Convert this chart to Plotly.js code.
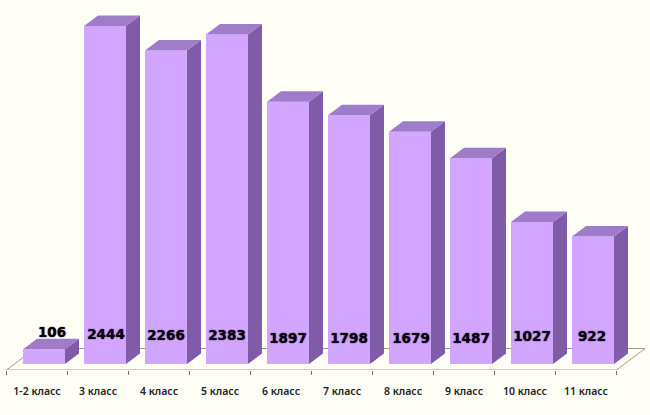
<!DOCTYPE html>
<html><head><meta charset="utf-8">
<script src="https://cdn.plot.ly/plotly-3.0.1.min.js"></script>
<style>html,body{margin:0;padding:0;background:#fffff8}</style></head>
<body><div id="chart" style="width:650px;height:415px"></div>
<script>
// ---- data ----
const classes = ["1-2 класс","3 класс","4 класс","5 класс","6 класс","7 класс","8 класс","9 класс","10 класс","11 класс"];
const pupils  = [106,2444,2266,2383,1897,1798,1679,1487,1027,922];

// ---- geometry (pixels) ----
const W=650,H=415, axisPx=370, basePx=364, pitch=61, firstCentre=37;
const pxPerUnit=0.1383, barW=42, barShift=7, dPx=14, dPy=10.5, floorDx=28.5, floorDy=21.5;
const xu=p=>p/pitch, yu=p=>p/pxPerUnit;
const xRange=[-xu(firstCentre), xu(W-firstCentre)];
const yRange=[-yu(axisPx-basePx)-0, yu(basePx)];
const FRONT='#d2a6ff',SIDE='#7f5ca8',TOP='#9f7cc9',FLOOR='#9a9a92',BG='#fffff8';

const idx=classes.map((_,i)=>i);
const left=i=>i+xu(barShift-barW/2), right=i=>i+xu(barShift+barW/2);
const dX=xu(dPx), dY=yu(dPy);

function face(xs,ys,color){return {type:'scatter',mode:'lines',x:xs,y:ys,fill:'toself',fillcolor:color,
  line:{width:0,color:color},hoverinfo:'skip',showlegend:false,cliponaxis:false};}

const traces=[{type:'bar',x:idx,y:pupils,base:0,width:xu(barW),offset:xu(barShift-barW/2),
  marker:{color:FRONT,line:{width:0}},showlegend:false,hoverinfo:'x+y'}];
idx.forEach(i=>{const v=pupils[i],l=left(i),r=right(i);
  traces.push(face([r,r+dX,r+dX,r,r],[0,dY,v+dY,v,0],SIDE));
  traces.push(face([l,r,r+dX,l+dX,l],[v,v,v+dY,v+dY,v],TOP));
});

// value labels: offsets from the bar centre in pixels
const labelDx=[8,1,0,0,0,0,1,0,0,-1], labelPx=[333.5,335.5,336.5,336.5,339.5,339.5,339.5,339.5,337.5,337.5];
traces.push({type:'scatter',mode:'text',x:idx.map(i=>i+xu(barShift+labelDx[i])),
  y:labelPx.map(p=>yu(basePx-p)),text:pupils.map(String),textposition:'middle center',
  textfont:{family:'"DejaVu Sans",Verdana,sans-serif',size:13.5,color:'#0a0010',weight:700,shadow:'0 0 1.2px #000'},
  hoverinfo:'skip',showlegend:false,cliponaxis:false});

const yAxis0=yRange[0], fx0=-0.5, fx1=idx.length-0.5, fdx=xu(floorDx), fdy=yu(floorDy);
const seg=(x0,y0,x1,y1)=>({type:'line',xref:'x',yref:'y',layer:'below',x0,y0,x1,y1,line:{color:FLOOR,width:1}});
const shapes=[
  seg(fx0,yAxis0,fx1,yAxis0),
  seg(fx0,yAxis0,fx0+fdx,yAxis0+fdy),
  seg(fx1,yAxis0,fx1+fdx,yAxis0+fdy),
  seg(fx0+fdx,yAxis0+fdy,fx1+fdx,yAxis0+fdy)
];

const boundaries=classes.map((_,i)=>i-0.5).concat([fx1]);
const layout={width:W,height:H,margin:{l:0,r:0,t:0,b:H-axisPx,pad:0},
  paper_bgcolor:BG,plot_bgcolor:BG,showlegend:false,shapes,
  xaxis:{range:xRange,tickmode:'array',tickvals:idx,ticktext:classes,ticks:'',showgrid:false,zeroline:false,showline:false,
    ticklabelstandoff:13,tickangle:0,tickfont:{family:'"Noto Sans",sans-serif',size:10.5,color:'#222',weight:600},
    minor:{tickmode:'array',tickvals:boundaries,ticks:'outside',ticklen:4,tickcolor:'#707070',tickwidth:1,showgrid:false}},
  yaxis:{range:yRange,visible:false,showgrid:false,zeroline:false}};
Plotly.newPlot('chart',traces,layout,{displayModeBar:false,staticPlot:true});
</script></body></html>
